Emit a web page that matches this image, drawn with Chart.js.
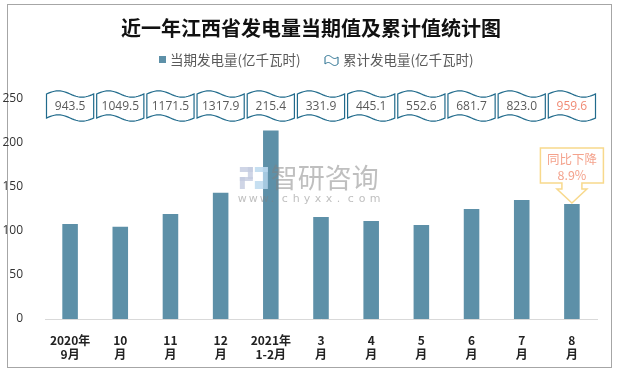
<!DOCTYPE html>
<html>
<head>
<meta charset="utf-8">
<script src="https://cdn.jsdelivr.net/npm/chart.js@4.4.1/dist/chart.umd.min.js"></script>
<style>
  html, body { margin: 0; padding: 0; background: #fff; }
  #wrap { position: relative; width: 618px; height: 372px; }
</style>
</head>
<body>
<div id="wrap"><canvas id="chart" width="618" height="372"></canvas></div>
<script>
  "use strict";

  // ---- data ---------------------------------------------------------
  const TITLE = '近一年江西省发电量当期值及累计值统计图';
  const SERIES_CURRENT = '当期发电量(亿千瓦时)';
  const SERIES_CUMULATIVE = '累计发电量(亿千瓦时)';
  const months = [
    ['2020年', '9月'], ['10', '月'], ['11', '月'], ['12', '月'], ['2021年', '1-2月'],
    ['3', '月'], ['4', '月'], ['5', '月'], ['6', '月'], ['7', '月'], ['8', '月'],
  ];
  const currentOutput = [108.0, 104.9, 119.3, 143.5, 214.2, 115.9, 111.4, 106.8, 125.0, 135.2, 130.7];
  const cumulativeOutput = [943.5, 1049.5, 1171.5, 1317.9, 215.4, 331.9, 445.1, 552.6, 681.7, 823.0, 959.6];
  const yTicks = [0, 50, 100, 150, 200, 250];
  const calloutLines = ['同比下降', '8.9%'];

  const BAR_COLOR = '#5d90a8';
  const WAVE_COLOR = '#216b8c';
  const SALMON = '#f08a74';
  const CJK = '"Noto Sans CJK SC", "Noto Sans", sans-serif';

  // ---- helpers ------------------------------------------------------

  // Flag-like "wave" box: top and bottom edges are the same sine curve.
  function wavePath(ctx, x, y, w, h, amp) {
    const n = 24;
    ctx.beginPath();
    for (let i = 0; i <= n; i++) {
      const t = i / n;
      const yy = y - amp * Math.sin(2 * Math.PI * t);
      if (i === 0) ctx.moveTo(x, yy); else ctx.lineTo(x + w * t, yy);
    }
    for (let i = n; i >= 0; i--) {
      const t = i / n;
      ctx.lineTo(x + w * t, y + h - amp * Math.sin(2 * Math.PI * t));
    }
    ctx.closePath();
  }

  // ---- decorations plugin (frame, title, legend, wave boxes, callout, watermark)

  const decorations = {
    id: 'decorations',
    beforeDraw(chart) {
      const ctx = chart.ctx;
      ctx.save();
      ctx.fillStyle = '#fff';
      ctx.fillRect(0, 0, chart.width, chart.height);
      ctx.strokeStyle = '#a6a6a6';
      ctx.lineWidth = 1;
      ctx.strokeRect(7.5, 4.5, chart.width - 14, chart.height - 9);

      // title
      ctx.fillStyle = '#111';
      ctx.font = 'bold 20px ' + CJK;
      ctx.textAlign = 'center';
      ctx.textBaseline = 'middle';
      ctx.fillText(TITLE, chart.width / 2 + 2, 28);

      // legend
      ctx.font = '13.5px ' + CJK;
      ctx.textAlign = 'left';
      ctx.fillStyle = BAR_COLOR;
      ctx.fillRect(159, 56, 7, 7);
      ctx.fillStyle = '#595959';
      ctx.fillText(SERIES_CURRENT, 170, 60);
      ctx.strokeStyle = WAVE_COLOR;
      ctx.lineWidth = 1;
      wavePath(ctx, 325, 57, 13, 7, 1.5);
      ctx.stroke();
      ctx.fillText(SERIES_CUMULATIVE, 343, 60);
      ctx.restore();
    },
    afterDatasetsDraw(chart) {
      const ctx = chart.ctx;
      const xs = chart.scales.x;
      const ys = chart.scales.y;
      const area = chart.chartArea;
      const step = xs.getPixelForValue(1) - xs.getPixelForValue(0);
      ctx.save();

      // cumulative values in wave boxes along the top
      const boxW = step - 3;
      const boxTop = area.top - 5;
      const boxH = 24;
      ctx.lineWidth = 1.2;
      ctx.strokeStyle = WAVE_COLOR;
      ctx.font = '12px "Open Sans", "DejaVu Sans", sans-serif';
      ctx.textAlign = 'center';
      ctx.textBaseline = 'middle';
      cumulativeOutput.forEach((v, i) => {
        const cx = xs.getPixelForValue(i);
        wavePath(ctx, cx - boxW / 2, boxTop, boxW, boxH, 3.2);
        ctx.fillStyle = '#fff';
        ctx.fill();
        ctx.stroke();
        ctx.fillStyle = i === cumulativeOutput.length - 1 ? SALMON : '#5a5a5a';
        ctx.fillText(v.toFixed(1), cx, boxTop + boxH / 2 + 0.5);
      });

      // callout above the last bar
      const last = currentOutput.length - 1;
      const cx = xs.getPixelForValue(last);
      const tip = ys.getPixelForValue(currentOutput[last]) - 1;
      const bw = 63, bTop = tip - 55, bBot = tip - 20;
      ctx.beginPath();
      ctx.moveTo(cx - bw / 2, bTop);
      ctx.lineTo(cx + bw / 2, bTop);
      ctx.lineTo(cx + bw / 2, bBot);
      ctx.lineTo(cx + 10, bBot);
      ctx.lineTo(cx + 10, bBot + 6);
      ctx.lineTo(cx + 15, bBot + 6);
      ctx.lineTo(cx, tip);
      ctx.lineTo(cx - 15, bBot + 6);
      ctx.lineTo(cx - 10, bBot + 6);
      ctx.lineTo(cx - 10, bBot);
      ctx.lineTo(cx - bw / 2, bBot);
      ctx.closePath();
      ctx.fillStyle = '#fff';
      ctx.fill();
      ctx.strokeStyle = '#f8d98c';
      ctx.lineWidth = 1.5;
      ctx.stroke();
      ctx.fillStyle = '#f4a28c';
      ctx.font = '12.5px ' + CJK;
      ctx.fillText(calloutLines[0], cx, bTop + 11);
      ctx.fillText(calloutLines[1], cx, bTop + 27);

      // watermark
      const wx = area.left + (area.right - area.left) * 0.353;
      const wy = area.top + 79;
      ctx.globalAlpha = 0.8;
      ctx.fillStyle = '#c3cae0';
      ctx.fillRect(wx, wy - 11, 13, 5);
      ctx.fillRect(wx + 8, wy - 11, 5, 12);
      ctx.fillRect(wx, wy - 1, 13, 4);
      ctx.fillRect(wx, wy - 1, 5, 12);
      ctx.fillStyle = '#b8d7ee';
      ctx.fillRect(wx + 15, wy - 11, 13, 5);
      ctx.fillRect(wx + 23, wy - 11, 5, 14);
      ctx.fillRect(wx + 15, wy + 3, 13, 8);
      ctx.globalAlpha = 0.5;
      ctx.fillStyle = '#808080';
      ctx.font = '27px ' + CJK;
      ctx.textAlign = 'left';
      ctx.fillText('智研咨询', wx + 31, wy);
      ctx.font = '11px "DejaVu Sans", sans-serif';
      const url = 'www.chyxx.com';
      for (let i = 0; i < url.length; i++) {
        ctx.fillText(url[i], wx - 2 + i * 11, wy + 21);
      }
      ctx.restore();
    },
  };

  new Chart(document.getElementById('chart'), {
    type: 'bar',
    data: {
      labels: months,
      datasets: [{
        label: SERIES_CURRENT,
        data: currentOutput,
        backgroundColor: BAR_COLOR,
        categoryPercentage: 1,
        barPercentage: 0.31,
      }],
    },
    options: {
      responsive: false,
      animation: false,
      devicePixelRatio: 1,
      layout: { padding: { top: 99, right: 21, bottom: 0, left: 0 } },
      plugins: {
        legend: { display: false },
        title: { display: false },
        tooltip: { enabled: false },
      },
      scales: {
        x: {
          grid: { display: false },
          border: { display: true, color: '#d9d9d9', width: 1 },
          ticks: {
            color: '#222',
            font: { family: CJK, size: 12, weight: 'bold' },
            padding: 6,
            maxRotation: 0,
            autoSkip: false,
          },
          afterFit(scale) { scale.height = 53; },
        },
        y: {
          min: 0,
          max: 250,
          grid: { display: false },
          border: { display: false },
          afterBuildTicks(scale) { scale.ticks = yTicks.map(v => ({ value: v })); },
          ticks: {
            color: '#333',
            font: { family: '"Open Sans", "DejaVu Sans", sans-serif', size: 12 },
            padding: 14,
          },
          afterFit(scale) { scale.width = 45; },
        },
      },
    },
    plugins: [decorations],
  });
</script>
</body>
</html>
